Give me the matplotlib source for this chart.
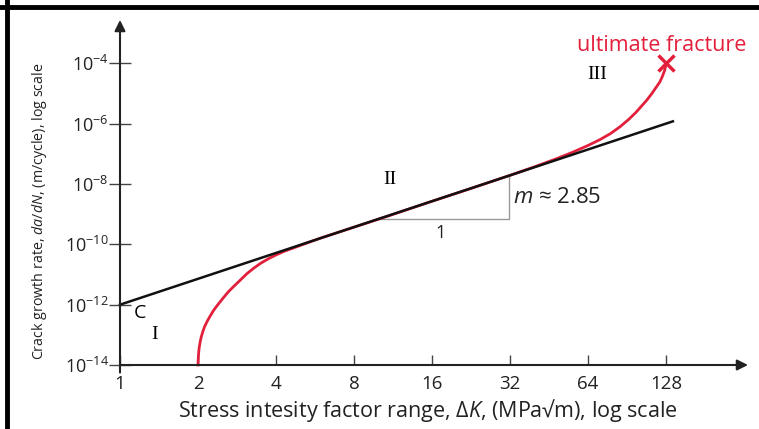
import numpy as np
import matplotlib
matplotlib.use("Agg")
import matplotlib.pyplot as plt
from matplotlib.lines import Line2D

plt.rcParams["font.family"] = ["Open Sans", "DejaVu Sans"]
plt.rcParams["mathtext.fontset"] = "custom"
plt.rcParams["mathtext.rm"] = "Open Sans"
plt.rcParams["mathtext.it"] = "Open Sans:italic"

# axis ticks
dk_ticks = [1, 2, 4, 8, 16, 32, 64, 128]
rate_tick_exp = [-14, -12, -10, -8, -6, -4]

# Paris law line (C = 1e-12, m = 2.85)
line_dk = [1, 136]
line_exp = [-12.0, -5.92]

# measured crack growth curve
curve_dk = [2.000, 2.003, 2.008, 2.015, 2.025, 2.04, 2.06, 2.09, 2.12, 2.17, 2.22, 2.30,
            2.40, 2.50, 2.62, 2.75, 2.90, 3.08, 3.28, 3.50, 3.75, 4.00, 4.3, 4.7, 5.2,
            6.0, 8.0, 11.0, 16.0, 22.0, 32.0, 40.0, 48.0, 56.0, 64.0, 71.0, 78.0, 85.0,
            92.0, 98.0, 104.0, 108.0, 113.0, 117.0, 121.0, 124.0, 126.5, 128.0]
curve_exp = [-14.0, -13.85, -13.68, -13.52, -13.38, -13.22, -13.06, -12.88, -12.73, -12.55,
             -12.40, -12.18, -11.97, -11.78, -11.57, -11.39, -11.20, -10.98, -10.79, -10.62,
             -10.47, -10.35, -10.23, -10.11, -9.97, -9.78, -9.43, -9.04, -8.57, -8.18,
             -7.71, -7.42, -7.17, -6.94, -6.72, -6.53, -6.33, -6.10, -5.85, -5.62,
             -5.37, -5.21, -4.99, -4.80, -4.62, -4.42, -4.22, -4.02]

# slope triangle
tri_dk = [10, 31.6, 31.6]
tri_exp = [-9.15, -9.15, -7.72]

fracture_dk, fracture_exp = 128, -4.0

fig = plt.figure(figsize=(7.59, 4.29), dpi=100)
ax = fig.add_axes([120 / 759, 64 / 429, 628 / 759, 345 / 429])
x_max = 2 ** 8.05
y_max = 10 ** -2.56
ax.set_xscale("log", base=2)
ax.set_yscale("log")
ax.set_xlim(1, x_max)
ax.set_ylim(1e-14, y_max)
for s in ax.spines.values():
    s.set_visible(False)

ax.set_xticks(dk_ticks)
ax.set_xticklabels([str(v) for v in dk_ticks])
ax.set_yticks([10.0 ** e for e in rate_tick_exp])
ax.set_yticklabels(["$10^{%d}$" % e for e in rate_tick_exp])
ax.minorticks_off()
ax.tick_params(axis="x", direction="in", length=7, width=1, color="#444",
               labelsize=13.5, labelcolor="#222", pad=7)
ax.tick_params(axis="y", direction="inout", length=16, width=1, color="#444",
               labelsize=13, labelcolor="#222", pad=0)

# axes with arrow heads
arrow = dict(arrowstyle="-|>", lw=1.5, color="#222", mutation_scale=16, shrinkA=0, shrinkB=0)
ax.annotate("", xy=(x_max, 1e-14), xytext=(1, 1e-14), arrowprops=arrow, annotation_clip=False)
ax.annotate("", xy=(1, y_max), xytext=(1, 10 ** -14.25), arrowprops=arrow, annotation_clip=False)

ax.plot(tri_dk, 10.0 ** np.array(tri_exp), color="#999999", lw=1, clip_on=False)
ax.plot(curve_dk, 10.0 ** np.array(curve_exp), color="#e3203c", lw=2, clip_on=False,
        solid_joinstyle="round")
ax.plot(line_dk, 10.0 ** np.array(line_exp), color="#111111", lw=1.8, clip_on=False)
ax.plot([fracture_dk], [10.0 ** fracture_exp], marker="x", color="#e3203c",
        ms=11, mew=2.5, clip_on=False)

ax.text(123.6, 10 ** -3.39, "ultimate fracture", color="#e3203c", fontsize=15.5,
        ha="center", va="center")
serif = dict(family="Liberation Serif", fontsize=14, ha="center", va="center")
ax.text(69.3, 10 ** -4.38, "III", **serif)
ax.text(11.0, 10 ** -7.86, "II", **serif)
ax.text(1.365, 10 ** -13.0, "I", **serif)
ax.text(1.19, 10 ** -12.27, "C", fontsize=14, ha="center", va="center")
ax.text(32.9, 10 ** -8.43, r"$\mathit{m}$ ≈ 2.85", fontsize=16, ha="left", va="center",
        color="#222")
ax.text(17.2, 10 ** -9.62, "1", fontsize=13, ha="center", va="center", color="#222")

fig.text(428 / 759, 1 - 411 / 429,
         r"Stress intesity factor range, Δ$\mathit{K}$, (MPa√m), log scale",
         fontsize=15.5, ha="center", va="center", color="#222")
fig.text(40 / 759, 1 - 211 / 429,
         r"Crack growth rate, $\mathit{da/dN}$, (m/cycle), log scale",
         fontsize=10.3, rotation=90, ha="center", va="center", color="#222")

# frame lines along top and left edge
fig.add_artist(Line2D([0, 1], [1 - 7 / 429, 1 - 7 / 429], transform=fig.transFigure,
                      color="black", lw=3.5))
fig.add_artist(Line2D([7 / 759, 7 / 759], [0, 1], transform=fig.transFigure,
                      color="black", lw=3.5))

fig.savefig("out.png", dpi=100)
